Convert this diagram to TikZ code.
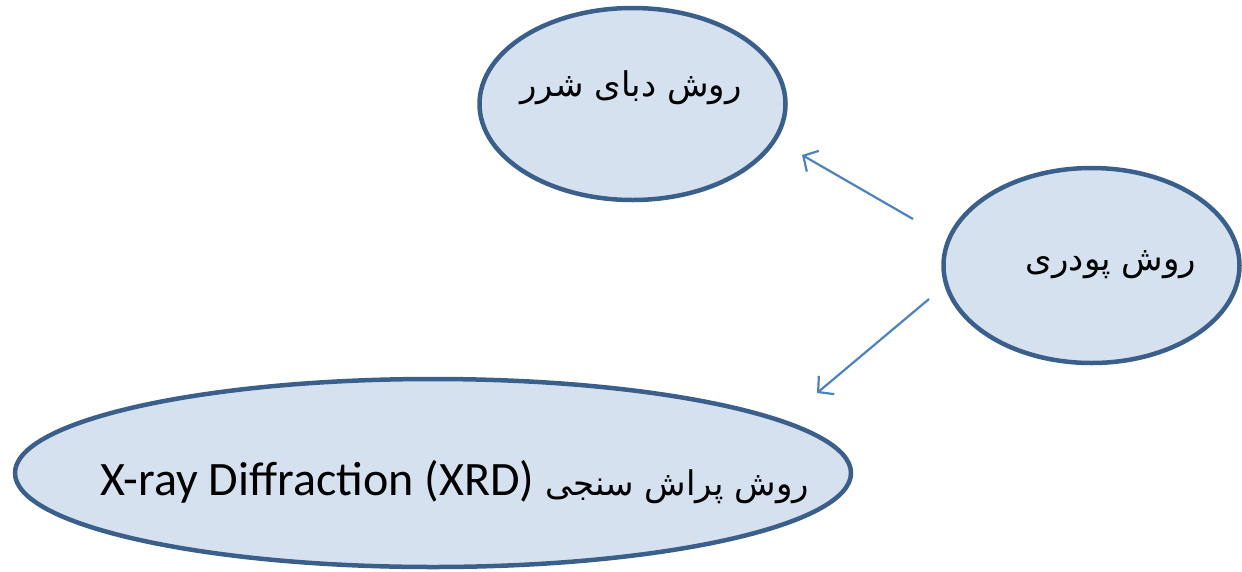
\documentclass[tikz,border=0pt]{standalone}
\usepackage{fontspec}
\setmainfont{Carlito}
\newfontfamily\arabicfont[Script=Arabic]{DejaVu Sans}
\TeXXeTstate=1
\usetikzlibrary{shapes.geometric,arrows.meta}
\definecolor{fillc}{RGB}{214,225,240}
\definecolor{edgec}{RGB}{58,95,139}
\definecolor{arrc}{RGB}{79,129,189}
\tikzset{
  bubble/.style={ellipse, draw=edgec, fill=fillc, line width=4.5pt, inner sep=0pt},
  conn/.style={draw=arrc, line width=2.2pt, -{Straight Barb[length=11pt,width=24pt,line width=2.2pt]}}
}
\begin{document}
\begin{tikzpicture}[x=1pt,y=-1pt]
\useasboundingbox (0,0) rectangle (1242,571);
\node[bubble, minimum width=306pt, minimum height=192pt] (dbs) at (632.5,104) {};
\node[bubble, minimum width=296pt, minimum height=195pt] (pwd) at (1091.5,265.5) {};
\node[bubble, minimum width=836pt, minimum height=188pt] (xrd) at (433,473) {};
\node[font=\fontsize{34}{38}\selectfont\arabicfont] (t1) at (631,88) {\beginR روش دبای شرر\endR};
\node[font=\fontsize{34}{38}\selectfont\arabicfont] (t2) at (1111,265) {\beginR روش پودری\endR};
\node[font=\fontsize{48}{52}\selectfont, anchor=center] (t3) at (455,482) {X-ray Diffraction (XRD) {\fontsize{34}{38}\selectfont\arabicfont\beginR روش پراش سنجی\endR}};
\coordinate (a1s) at (913,219);
\coordinate (a1e) at (802,155);
\coordinate (a2s) at (929,299);
\coordinate (a2e) at (817,393);
\draw[conn] (a1s) -- (a1e);
\draw[conn] (a2s) -- (a2e);
\end{tikzpicture}
\end{document}
